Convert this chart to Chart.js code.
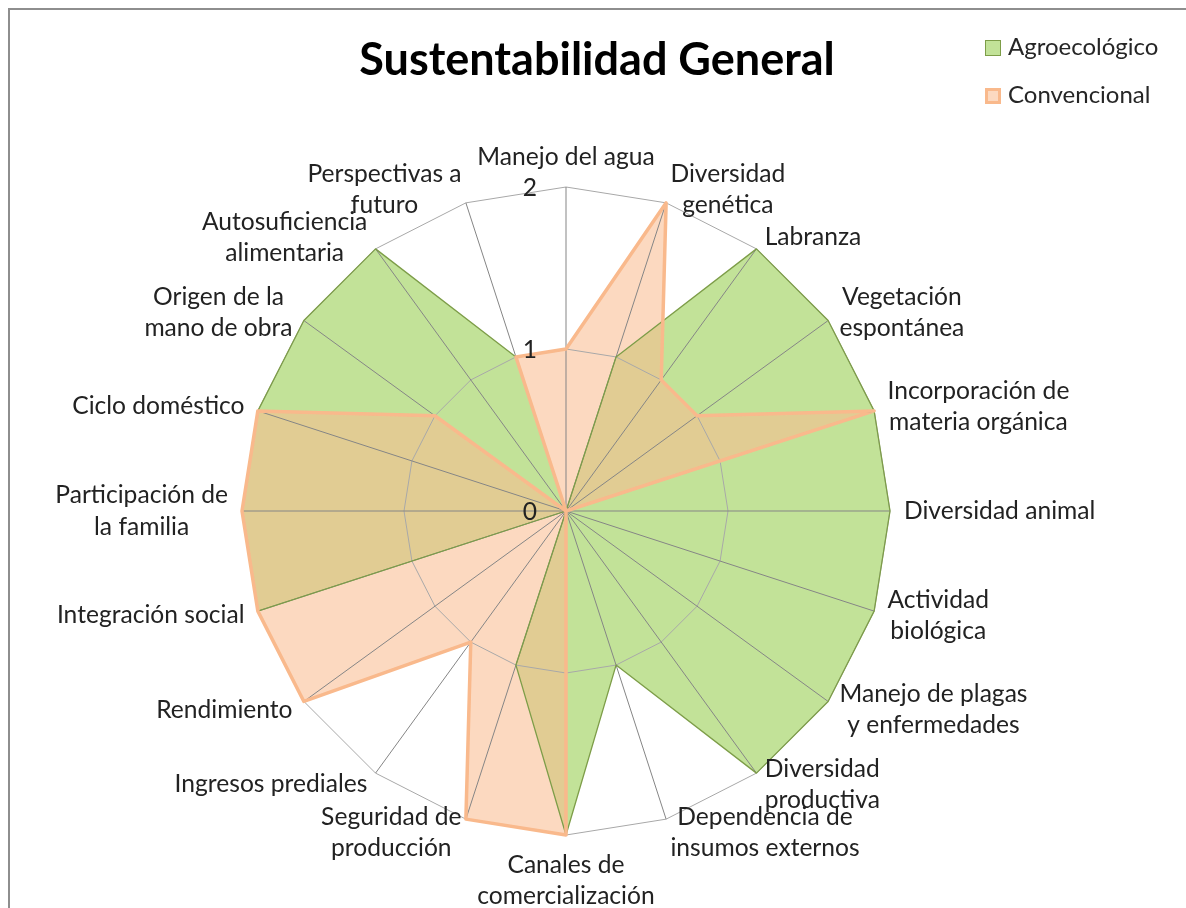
<!DOCTYPE html>
<html lang="es">
<head>
<meta charset="utf-8">
<title>Sustentabilidad General</title>
<script src="https://cdn.jsdelivr.net/npm/chart.js@4.4.1/dist/chart.umd.min.js"></script>
<style>
html,body{margin:0;padding:0;background:#fff;}
body{width:1186px;height:908px;overflow:hidden;position:relative;font-family:Lato,"Open Sans",sans-serif;color:#262626;}
#frame{position:absolute;left:8px;top:8px;width:1400px;height:1100px;border-top:2px solid #8e8e8e;border-left:2px solid #8e8e8e;box-sizing:border-box;}
#chart{position:absolute;left:0;top:0;}
#title{position:absolute;left:297px;top:31px;width:600px;text-align:center;font-weight:700;font-size:45px;line-height:1.2;color:#000;white-space:nowrap;}
#legend{position:absolute;left:985px;top:0;width:200px;height:120px;}
.item{position:absolute;left:23px;white-space:nowrap;font-size:24px;line-height:1.2;color:#262626;}
.swatch{position:absolute;left:0;width:16px;height:16px;box-sizing:border-box;}
</style>
</head>
<body>
<div id="frame"></div>
<canvas id="chart" width="1186" height="908"></canvas>
<div id="title">Sustentabilidad General</div>
<div id="legend"></div>
<script>
// ---- data ----
const categories = [
  'Manejo del agua',
  ['Diversidad', 'genética'],
  'Labranza',
  ['Vegetación', 'espontánea'],
  ['Incorporación de', 'materia orgánica'],
  'Diversidad animal',
  ['Actividad', 'biológica'],
  ['Manejo de plagas', 'y enfermedades'],
  ['Diversidad', 'productiva'],
  ['Dependencia de', 'insumos externos'],
  ['Canales de', 'comercialización'],
  ['Seguridad de', 'producción'],
  'Ingresos prediales',
  'Rendimiento',
  'Integración social',
  ['Participación de', 'la familia'],
  'Ciclo doméstico',
  ['Origen de la', 'mano de obra'],
  ['Autosuficiencia', 'alimentaria'],
  ['Perspectivas a', 'futuro']
];
const seriesNames = ['Agroecológico', 'Convencional'];
const agroecologico = [0, 1, 2, 2, 2, 2, 2, 2, 2, 1, 2, 1, 0, 0, 2, 2, 2, 2, 2, 1];
const convencional  = [1, 2, 1, 1, 2, 0, 0, 0, 0, 0, 2, 2, 1, 2, 2, 2, 2, 1, 0, 1];
const tickLabels = ['0', '1', '2'];

// ---- styles ----
const LABEL_FONT = '24.6px Lato';
const LINE_H = 31.5;
const LABEL_GAP = 14;
const TEXT_COLOR = '#222222';

const pointLabelPlugin = {
  id: 'excelPointLabels',
  afterDraw(chart) {
    const s = chart.scales.r, ctx = chart.ctx;
    ctx.save();
    ctx.font = LABEL_FONT;
    ctx.fillStyle = TEXT_COLOR;
    ctx.textBaseline = 'middle';
    ctx.textAlign = 'center';
    chart.data.labels.forEach((lab, i) => {
      const lines = [].concat(lab);
      const p = s.getPointPosition(i, s.drawingArea + LABEL_GAP);
      const deg = Math.round(s.getIndexAngle(i) * 180 / Math.PI) % 360;
      const w = Math.max(...lines.map(l => ctx.measureText(l).width));
      const h = lines.length * LINE_H;
      let cx, top;
      if (deg === 0) { cx = p.x; top = p.y - h; }
      else if (deg === 180) { cx = p.x; top = p.y; }
      else { cx = deg < 180 ? p.x + w / 2 : p.x - w / 2; top = p.y - h / 2; }
      lines.forEach((l, k) => ctx.fillText(l, cx, top + LINE_H * (k + 0.5)));
    });
    ctx.restore();
  }
};

const tickLabelPlugin = {
  id: 'leftTickLabels',
  afterDraw(chart) {
    const s = chart.scales.r, ctx = chart.ctx;
    ctx.save();
    ctx.font = LABEL_FONT;
    ctx.fillStyle = TEXT_COLOR;
    ctx.textAlign = 'right';
    ctx.textBaseline = 'middle';
    s.ticks.forEach(t => {
      const p = s.getPointPositionForValue(0, t.value);
      ctx.fillText(t.label, p.x - 29, p.y + 1);
    });
    ctx.restore();
  }
};

function build() {
  const chart = new Chart(document.getElementById('chart'), {
    type: 'radar',
    data: {
      labels: categories,
      datasets: [
        {
          label: seriesNames[0],
          data: agroecologico,
          backgroundColor: 'rgba(153,207,83,0.6)',
          borderColor: '#7d9d48',
          borderWidth: 1.3,
          borderJoinStyle: 'round',
          pointRadius: 0,
          fill: 'start',
          order: 2
        },
        {
          label: seriesNames[1],
          data: convencional,
          backgroundColor: 'rgba(250,187,142,0.56)',
          borderColor: '#f9b98c',
          borderWidth: 3.5,
          borderJoinStyle: 'round',
          pointRadius: 0,
          fill: 'start',
          order: 1
        }
      ]
    },
    options: {
      responsive: false,
      animation: false,
      devicePixelRatio: 1,
      layout: { padding: { left: 242, right: 296, top: 187, bottom: 73 } },
      elements: { line: { tension: 0 } },
      plugins: {
        legend: { display: false },
        title: { display: false },
        tooltip: { enabled: false },
        filler: { drawTime: 'beforeDraw' }
      },
      scales: {
        r: {
          min: 0,
          max: 2,
          ticks: { stepSize: 1, display: false, callback: (v) => tickLabels[v] },
          pointLabels: { display: false },
          grid: { color: '#a8a8a8', lineWidth: 1 },
          angleLines: { color: '#858585', lineWidth: 1 }
        }
      }
    },
    plugins: [pointLabelPlugin, tickLabelPlugin]
  });

  // legend built from the chart's datasets
  const legend = document.getElementById('legend');
  const bw = [1.5, 3];
  chart.data.datasets.forEach((ds, i) => {
    const sw = document.createElement('div');
    sw.className = 'swatch';
    sw.style.top = (40 + 48 * i) + 'px';
    sw.style.background = ds.backgroundColor;
    sw.style.border = bw[i] + 'px solid ' + ds.borderColor;
    legend.appendChild(sw);
    const tx = document.createElement('div');
    tx.className = 'item';
    tx.style.top = (32 + 47.5 * i) + 'px';
    tx.textContent = ds.label;
    legend.appendChild(tx);
  });
}

if (document.fonts && document.fonts.load) {
  Promise.all([document.fonts.load('24px Lato'), document.fonts.load('bold 45px Lato')]).then(build, build);
} else {
  build();
}
</script>
</body>
</html>
